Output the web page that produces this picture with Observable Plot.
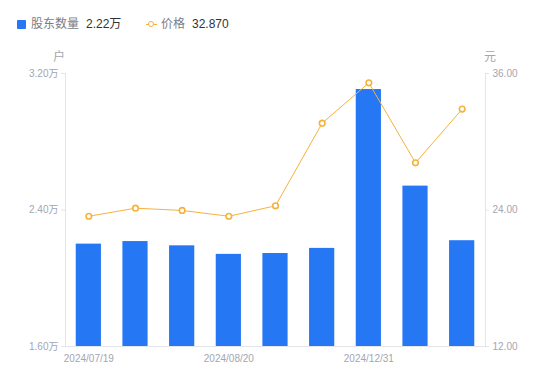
<!DOCTYPE html>
<html>
<head>
<meta charset="utf-8">
<script src="https://cdn.jsdelivr.net/npm/d3@7"></script>
<script src="https://cdn.jsdelivr.net/npm/@observablehq/plot@0.6"></script>
<style>
  html, body { margin: 0; padding: 0; background: #fff; }
  body { font-family: Arial, "Liberation Sans", "Noto Sans CJK SC", sans-serif; }
  #wrap { position: relative; width: 550px; height: 381px; overflow: hidden; }
  #legend { position: relative; width: 550px; height: 46px; }
  .abs { position: absolute; white-space: nowrap; line-height: 14px; }
  .lg { font-size: 12px; color: #7a7d87; }
  .lv { font-size: 12px; color: #333; }
  .unit { font-size: 12px; color: #a3a6b2; }
</style>
</head>
<body>
<div id="wrap">
  <div id="legend">
    <div class="abs" style="left:17px;top:20px;width:9px;height:9px;background:#2577f4;border-radius:1px;"></div>
    <span class="abs lg" style="left:31px;top:17px;">股东数量</span>
    <span class="abs lv" style="left:86px;top:17px;">2.22万</span>
    <div class="abs" style="left:146px;top:23.5px;width:11px;height:1.5px;background:#f6b23e;"></div>
    <div class="abs" style="left:148px;top:20.5px;width:4px;height:4px;border:1.5px solid #f6b23e;border-radius:50%;background:#fff;"></div>
    <span class="abs lg" style="left:161px;top:17px;">价格</span>
    <span class="abs lv" style="left:192px;top:17px;">32.870</span>
    <span class="abs unit" style="left:53px;top:50px;">户</span>
    <span class="abs unit" style="left:484px;top:50px;">元</span>
  </div>
  <div id="chart"></div>
</div>
<script>
const dates = ["2024/07/19","2024/07/31","2024/08/09","2024/08/20","2024/08/30","2024/09/30","2024/12/31","2025/01/20","2025/03/31"];
const holders = [2.20, 2.215, 2.19, 2.14, 2.145, 2.175, 3.106, 2.54, 2.22]; // 万户
const prices = [23.45, 24.16, 23.96, 23.45, 24.37, 31.63, 35.18, 28.15, 32.87]; // 元
const holderTicks = [1.6, 2.4, 3.2];
const priceTicks = [12, 24, 36];
const xLabels = ["2024/07/19", "2024/08/20", "2024/12/31"];

const hMin = holderTicks[0], hMax = holderTicks[holderTicks.length - 1];
const pMin = priceTicks[0], pMax = priceTicks[priceTicks.length - 1];
const toLeft = p => hMin + (p - pMin) / (pMax - pMin) * (hMax - hMin);
const toPrice = h => pMin + (h - hMin) / (hMax - hMin) * (pMax - pMin);

const data = dates.map((d, i) => ({date: d, holders: holders[i], price: prices[i]}));

const axisColor = "#a3a6b2";
const lineColor = "#e4e5e9";

const chart = Plot.plot({
  width: 550,
  height: 335,
  marginTop: 27,
  marginBottom: 35,
  marginLeft: 65,
  marginRight: 65,
  style: {fontFamily: 'Arial, "Liberation Sans", "Noto Sans CJK SC", sans-serif', fontSize: "10px", color: axisColor, background: "white"},
  x: {domain: dates, paddingInner: 0.46, paddingOuter: 0.23, round: false, axis: null},
  y: {domain: [hMin, hMax], axis: null},
  marks: [
    Plot.frame({anchor: "left", stroke: lineColor}),
    Plot.frame({anchor: "right", stroke: lineColor}),
    Plot.frame({anchor: "bottom", stroke: lineColor}),
    Plot.barY(data, {x: "date", y1: hMin, y2: "holders", fill: "#2577f4"}),
    Plot.line(data, {x: "date", y: d => toLeft(d.price), stroke: "#f6b23e", strokeWidth: 1}),
    Plot.dot(data, {x: "date", y: d => toLeft(d.price), r: 2.8, stroke: "#f6b23e", strokeWidth: 1.6, fill: "white"}),
    Plot.axisY(holderTicks, {anchor: "left", tickFormat: d => d.toFixed(2) + "万", tickSize: 4, tickPadding: 3, stroke: lineColor, fill: axisColor, label: null}),
    Plot.axisY(priceTicks.map(toLeft), {anchor: "right", tickFormat: d => toPrice(d).toFixed(2), tickSize: 3, tickPadding: 4, stroke: lineColor, fill: axisColor, label: null}),
    Plot.axisX(xLabels, {tickSize: 0, tickPadding: 8, fill: axisColor, label: null})
  ]
});
document.getElementById("chart").appendChild(chart);
</script>
</body>
</html>
